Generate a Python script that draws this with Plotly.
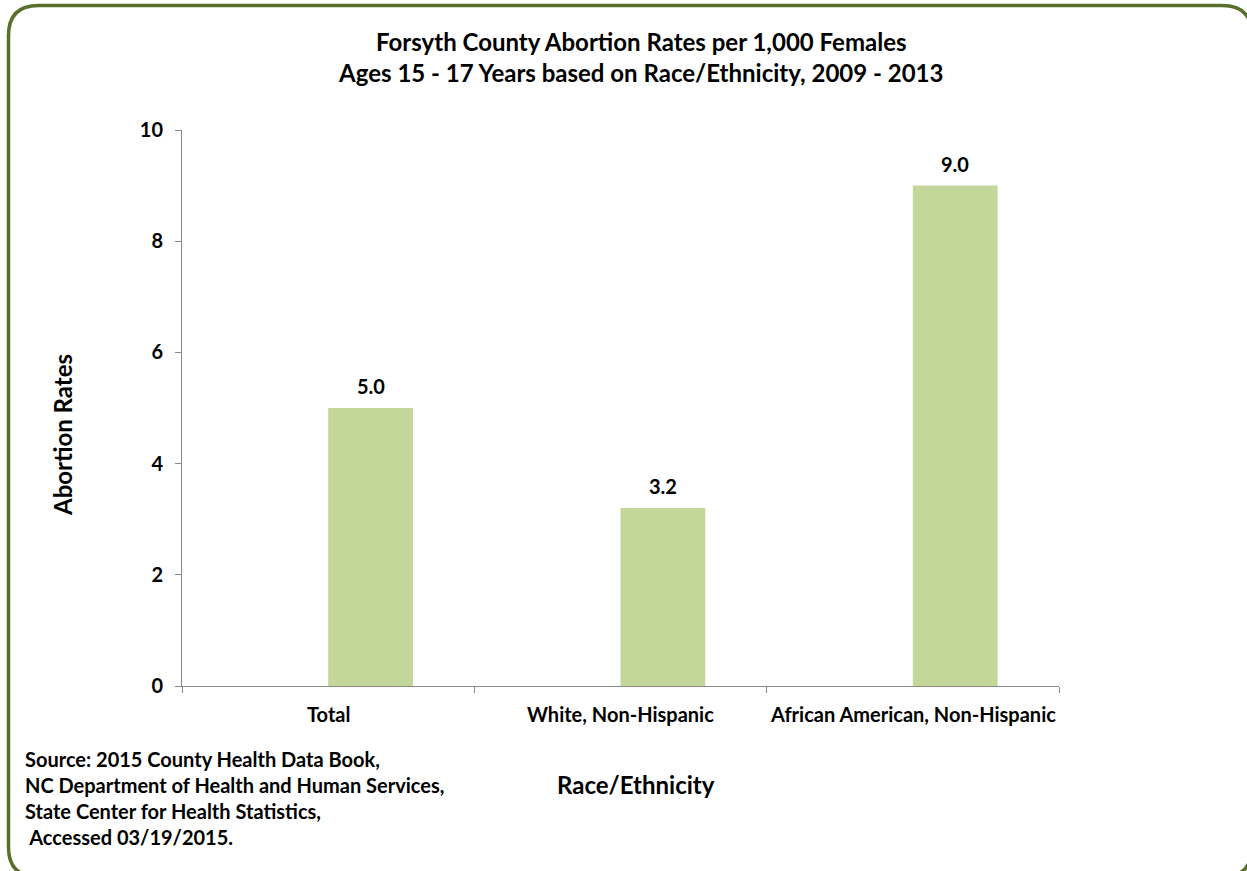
import plotly.graph_objects as go

categories = ["Total", "White, Non-Hispanic", "African American, Non-Hispanic"]
rates = [5.0, 3.2, 9.0]
y_ticks = [0, 2, 4, 6, 8, 10]

W, H = 1247, 871
L, R, T, B = 182, 1059, 130, 686
FONT = "Lato"
BAR_W = 0.29

def px(x):
    return (x - L) / (R - L)

def py(y):
    return (B - y) / (B - T)

fig = go.Figure(go.Bar(
    x=categories, y=rates,
    marker=dict(color="#c4d79b", line=dict(width=0)),
    width=BAR_W, offset=0,
    hoverinfo="skip",
))

# rounded border (right and bottom edges fall just outside the page, as in the reference)
x0, y0, x1, y1, r = 8.5, 5.5, 1252, 877, 30
path = (f"M {px(x0+r)},{py(y0)} L {px(x1-r)},{py(y0)} Q {px(x1)},{py(y0)} {px(x1)},{py(y0+r)} "
        f"L {px(x1)},{py(y1-r)} Q {px(x1)},{py(y1)} {px(x1-r)},{py(y1)} "
        f"L {px(x0+r)},{py(y1)} Q {px(x0)},{py(y1)} {px(x0)},{py(y1-r)} "
        f"L {px(x0)},{py(y0+r)} Q {px(x0)},{py(y0)} {px(x0+r)},{py(y0)} Z")

fig.update_layout(
    width=W, height=H,
    margin=dict(l=L, r=W - R, t=T, b=H - B, pad=0),
    paper_bgcolor="white", plot_bgcolor="white",
    font=dict(family=FONT, color="#000000"),
    showlegend=False,
    shapes=[dict(type="path", path=path, xref="paper", yref="paper",
                 line=dict(color="#58702a", width=3.5), layer="below")],
    title=dict(text="<b>Forsyth County Abortion Rates per 1,000 Females<br>Ages 15 - 17 Years based on Race/Ethnicity, 2009 - 2013</b>",
               x=px(633), xanchor="center", y=1 - 51 / H, yanchor="middle",
               font=dict(family=FONT, size=24, color="#000000")),
    xaxis=dict(
        showline=True, linecolor="#898989", linewidth=1,
        ticks="outside", ticklen=6, tickcolor="#898989",
        tickmode="array", tickvals=[-0.5, 0.5, 1.5, 2.5], ticktext=["", "", "", ""],
        showgrid=False, zeroline=False, range=[-0.5, 2.5],
        fixedrange=True,
    ),
    yaxis=dict(
        range=[0, 10], tickvals=y_ticks, ticktext=[f"<b>{v}</b>" for v in y_ticks],
        showline=True, linecolor="#898989", linewidth=1,
        ticks="outside", ticklen=6, tickcolor="#898989",
        ticklabelstandoff=8,
        tickfont=dict(family=FONT, size=20, color="#000000"),
        showgrid=False, zeroline=False, fixedrange=True,
    ),
    annotations=[
        *[dict(x=i, y=0, xref="x", yref="y", text=f"<b>{c}</b>", showarrow=False,
               yshift=-28, font=dict(family=FONT, size=20, color="#000000"))
          for i, c in enumerate(categories)],
        *[dict(x=i + BAR_W / 2, y=v, xref="x", yref="y", text=f"<b>{v:.1f}</b>", showarrow=False,
               yshift=22, yanchor="middle", font=dict(family=FONT, size=20, color="#000000"))
          for i, v in enumerate(rates)],
        dict(x=px(63), y=py(435), xref="paper", yref="paper", text="<b>Abortion Rates</b>",
             textangle=-90, showarrow=False, font=dict(family=FONT, size=24, color="#000000"),
             xanchor="center", yanchor="middle"),
        dict(x=px(636), y=py(784), xref="paper", yref="paper", text="<b>Race/Ethnicity</b>",
             showarrow=False, font=dict(family=FONT, size=24, color="#000000"),
             xanchor="center", yanchor="middle"),
        dict(x=px(23), y=py(798), xref="paper", yref="paper",
             text="<b>Source: 2015 County Health Data Book,<br>NC Department of Health and Human Services,<br>State Center for Health Statistics,<br> Accessed 03/19/2015.</b>",
             showarrow=False, align="left", xanchor="left", yanchor="middle",
             font=dict(family=FONT, size=20, color="#000000")),
    ],
)

fig.write_html("out.html", config={"displayModeBar": False},
               post_script="document.body.style.margin='0';document.body.style.padding='0';")
